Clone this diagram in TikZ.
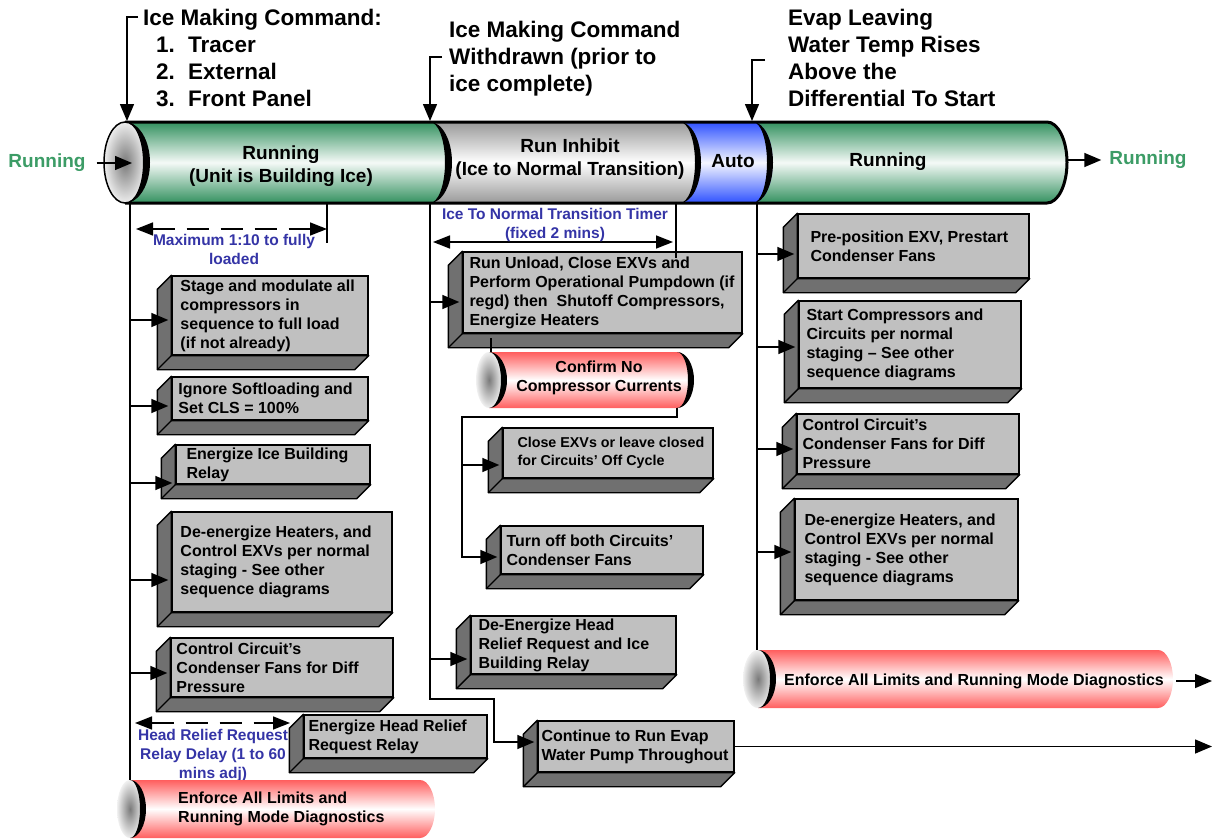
\documentclass[tikz,border=0pt]{standalone}
\usepackage{fontspec}
\setmainfont{Liberation Sans}
\usepackage{tikz}
\usetikzlibrary{arrows.meta,positioning}
\definecolor{runtxt}{HTML}{3C9C66}
\definecolor{tubegreen}{HTML}{33915F}
\definecolor{tubegray}{HTML}{999999}
\definecolor{tubeblue}{HTML}{2F52FF}
\definecolor{enfred}{HTML}{FF5E5E}
\definecolor{dimblue}{HTML}{3434A6}
\definecolor{facegray}{HTML}{C0C0C0}
\definecolor{sidegray}{HTML}{707070}

% dark left/bottom sides of a 3D box, drawn round its face node
\newcommand{\boxslab}[1]{%
  \filldraw[fill=sidegray,draw=black,line width=1.4bp,line join=round]
    (#1.north west) -- ++(-14,14) -- ([shift={(-14,14)}]#1.south west)
    -- ([shift={(-14,14)}]#1.south east) -- (#1.south east) -- (#1.south west) -- cycle;
  \draw[line width=1.4bp] (#1.south west) -- ++(-14,14);}
% black crescent at the end of a tube: x, top y, y radius, outer and inner x radius
\newcommand{\tuberim}[5]{%
  \fill (#1,#2) arc[start angle=90,end angle=-90,x radius=#4bp,y radius=#3bp]
    arc[start angle=-90,end angle=90,x radius=#5bp,y radius=#3bp] -- cycle;}

\begin{document}
\begin{tikzpicture}[x=1bp,y=-1bp,
  wire/.style={line width=1.5bp},
  flow/.style={line width=1.5bp,-{Stealth[length=17bp,width=14bp,inset=0bp]}},
  branch/.style={flow,shorten >=3bp},
  span/.style={line width=1.5bp,{Stealth[length=17bp,width=13bp,inset=0bp]}-{Stealth[length=17bp,width=13bp,inset=0bp]}},
  face/.style={rectangle,draw=black,line width=1.4bp,fill=facegray,inner sep=0pt},
  boxtext/.style={align=left,inner sep=0pt,font=\fontsize{16bp}{19bp}\selectfont\bfseries},
  cmdtext/.style={align=left,inner sep=0pt,font=\fontsize{22.5bp}{27bp}\selectfont\bfseries},
  tubetext/.style={align=center,inner sep=0pt,font=\fontsize{19bp}{23bp}\selectfont\bfseries},
  dimtext/.style={align=center,inner sep=0pt,text=dimblue,font=\fontsize{15.5bp}{19bp}\selectfont\bfseries}]
\useasboundingbox (0,0) rectangle (1215,839);

% main tube, right to left
\shade[top color=tubegreen,bottom color=tubegreen,middle color=tubegreen!5!white]
  (753,122) -- (1047,122) arc[start angle=90,end angle=-90,x radius=20bp,y radius=40.5bp] -- (753,203) -- cycle;
\shade[top color=tubeblue,bottom color=tubeblue,middle color=tubeblue!5!white]
  (680,122) -- (753,122) arc[start angle=90,end angle=-90,x radius=20bp,y radius=40.5bp] -- (680,203) -- cycle;
\shade[top color=tubegray,bottom color=tubegray,middle color=white]
  (430,122) -- (680,122) arc[start angle=90,end angle=-90,x radius=20bp,y radius=40.5bp] -- (430,203) -- cycle;
\shade[top color=tubegreen,bottom color=tubegreen,middle color=tubegreen!5!white]
  (125,122) -- (430,122) arc[start angle=90,end angle=-90,x radius=20bp,y radius=40.5bp] -- (125,203) -- cycle;
\draw[line width=3bp] (125,122) -- (1047,122)
  arc[start angle=90,end angle=-90,x radius=20bp,y radius=40.5bp] -- (125,203);
\shade[inner color=black!52,outer color=black!7] (125,162.5) ellipse[x radius=21bp,y radius=40.5bp];
\draw[line width=1.5bp] (125,162.5) ellipse[x radius=21bp,y radius=40.5bp];
\tuberim{125}{122}{40.5}{25}{18}
\tuberim{430}{122}{40.5}{22}{15}
\tuberim{680}{122}{40.5}{21}{15}
\tuberim{753}{122}{40.5}{20}{14}

\node[tubetext] (run1) at (281,166) {Running\\(Unit is Building Ice)};
\node[tubetext] (inhibit) at (570,159) {Run Inhibit\\(Ice to Normal Transition)};
\node[tubetext] (auto) at (733,161) {Auto};
\node[tubetext] (run2) at (888,162) {Running};

% states in and out
\node[tubetext,text=runtxt] (inL) at (47,163) {Running};
\node[tubetext,text=runtxt] (outR) at (1148,160) {Running};
\coordinate (faceL) at (132,163);
\coordinate (tubeR) at (1067,160);
\draw[flow,shorten <=11bp] (inL) -- (faceL);
\draw[flow,shorten >=8bp] (tubeR) -- (outR);

% commands above the tube
\node[cmdtext,anchor=west] (cmd1) at (143,57.5) {Ice Making Command:\\\hspace*{13bp}\makebox[32bp][l]{1.}Tracer\\\hspace*{13bp}\makebox[32bp][l]{2.}External\\\hspace*{13bp}\makebox[32bp][l]{3.}Front Panel};
\node[cmdtext,anchor=west] (cmd2) at (449,59) {Ice Making Command\\Withdrawn (prior to\\ice complete)};
\node[cmdtext,anchor=west] (cmd3) at (788,57.5) {Evap Leaving\\Water Temp Rises\\Above the\\Differential To Start};
\coordinate (k1) at (138,17);
\coordinate (k2) at (442,57);
\coordinate (k3) at (765,60);
\coordinate (tubeA) at (127,121);
\coordinate (tubeB) at (430,121);
\coordinate (tubeC) at (752,121);
\draw[flow] (k1) -| (tubeA);
\draw[flow] (k2) -| (tubeB);
\draw[flow] (k3) -| (tubeC);

% trunks under the tube
\coordinate (trL) at (130,203);
\coordinate (trM) at (430,203);
\coordinate (trR) at (757,203);
\draw[wire] (trL) -- (130,780);
\draw[wire] (trM) |- (494,699) -- (494,742) -- (534,742);
\draw[wire] (trR) -- (757,650);

% timers
\coordinate (mA) at (136,229);
\coordinate (mB) at (327,229);
\draw[wire] (327,203) -- (327,243);
\draw[span,dash pattern=on 22bp off 12bp] (mA) -- (mB);
\node[dimtext] (maxload) at (234,249) {Maximum 1:10 to fully\\loaded};
\coordinate (tA) at (433,242);
\coordinate (tB) at (673,242);
\draw[span] (tA) -- (tB);
\node[dimtext] (timer) at (555,224.5) {Ice To Normal Transition Timer\\(fixed 2 mins)};

% running side, left column
\node[face,minimum width=196bp,minimum height=79bp] (b1) at (270,315.5) {};
\boxslab{b1}
\node[boxtext,right=9bp of b1.west] (b1t) {Stage and modulate all\\compressors in\\sequence to full load\\(if not already)};
\node[face,minimum width=196bp,minimum height=43bp] (b2) at (270,398.5) {};
\boxslab{b2}
\node[boxtext,right=7bp of b2.west] (b2t) {Ignore Softloading and\\Set CLS = 100\%};
\node[face,minimum width=194bp,minimum height=39bp] (b3) at (273,464.5) {};
\boxslab{b3}
\node[boxtext,right=11bp of b3.west] (b3t) {Energize Ice Building\\Relay};
\node[face,minimum width=220bp,minimum height=100bp] (b4) at (282,562) {};
\boxslab{b4}
\node[boxtext,right=9bp of b4.west] (b4t) {De-energize Heaters, and\\Control EXVs per normal\\staging - See other\\sequence diagrams};
\node[face,minimum width=222bp,minimum height=59bp] (b5) at (282,667.5) {};
\boxslab{b5}
\node[boxtext,right=6bp of b5.west] (b5t) {Control Circuit’s\\Condenser Fans for Diff\\Pressure};
\node[face,minimum width=183bp,minimum height=43bp] (b6) at (395.5,736.5) {};
\boxslab{b6}
\node[boxtext,right=5bp of b6.west] (b6t) {Energize Head Relief\\Request Relay};

\coordinate (t1) at (130,320);
\coordinate (t2) at (130,406);
\coordinate (t3) at (130,483);
\coordinate (t4) at (130,580);
\coordinate (t5) at (130,673);
\draw[branch] (t1) -- (t1 -| b1.west);
\draw[branch] (t2) -- (t2 -| b2.west);
\draw[branch] (t3) -- (t3 -| b3.west);
\draw[branch] (t4) -- (t4 -| b4.west);
\draw[branch] (t5) -- (t5 -| b5.west);

\coordinate (hA) at (135,723);
\coordinate (hB) at (290,723);
\draw[span,dash pattern=on 22bp off 12bp] (hA) -- (hB);
\node[dimtext] (relay) at (213,755) {Head Relief Request\\Relay Delay (1 to 60\\mins adj)};

% enforce limits, left
\shade[top color=enfred,bottom color=enfred,middle color=white]
  (130,780) -- (420,780) arc[start angle=90,end angle=-90,x radius=15bp,y radius=29bp] -- (130,838) -- cycle;
\shade[inner color=black!52,outer color=black!6] (130,809) ellipse[x radius=13bp,y radius=29bp];
\tuberim{130}{780}{29}{16}{10}
\node[boxtext,anchor=west] (enfL) at (178,808.5) {Enforce All Limits and\\Running Mode Diagnostics};

% inhibit column
\node[face,minimum width=279bp,minimum height=81bp] (ru) at (602.5,292.5) {};
\boxslab{ru}
\node[boxtext,right=7bp of ru.west] (rut) {Run Unload, Close EXVs and\\Perform Operational Pumpdown (if\\regd) then\ \ Shutoff Compressors,\\Energize Heaters};
\draw[wire] (676,203) -- (676,258);

\shade[top color=enfred,bottom color=enfred,middle color=white]
  (489,352) -- (677,352) arc[start angle=90,end angle=-90,x radius=15bp,y radius=28bp] -- (489,408) -- cycle;
\shade[inner color=black!52,outer color=black!6] (489,380) ellipse[x radius=13bp,y radius=28bp];
\tuberim{489}{352}{28}{18}{12}
\tuberim{677}{352}{28}{17}{11}
\node[tubetext,font=\fontsize{16bp}{19bp}\selectfont\bfseries] (cnf) at (599,377.5) {Confirm No\\Compressor Currents};
\coordinate (cfTop) at (491,352);
\draw[wire] (cfTop) -- ++(0,-14);

\node[face,minimum width=210bp,minimum height=50bp] (cb) at (608,453) {};
\boxslab{cb}
\node[boxtext,font=\fontsize{14.3bp}{18bp}\selectfont\bfseries,right=15bp of cb.west] (cbt) {Close EXVs or leave closed\\for Circuits’ Off Cycle};
\node[face,minimum width=202bp,minimum height=48bp] (tb) at (602,550) {};
\boxslab{tb}
\node[boxtext,right=6bp of tb.west] (tbt) {Turn off both Circuits’\\Condenser Fans};
\node[face,minimum width=205bp,minimum height=58bp] (dh) at (573.5,645) {};
\boxslab{dh}
\node[boxtext,right=8bp of dh.west] (dht) {De-Energize Head\\Relief Request and Ice\\Building Relay};
\node[face,minimum width=196bp,minimum height=51bp] (cw) at (636,746.5) {};
\boxslab{cw}
\node[boxtext,right=4bp of cw.west] (cwt) {Continue to Run Evap\\Water Pump Throughout};

\coordinate (m1) at (430,302);
\coordinate (m2) at (430,659);
\coordinate (m3) at (494,742);
\draw[branch] (m1) -- (m1 -| ru.west);
\draw[branch] (m2) -- (m2 -| dh.west);
\draw[branch] (m3) -- (m3 -| cw.west);

\coordinate (cfEnd) at (677,408);
\coordinate (sA) at (462,465);
\coordinate (sB) at (462,557);
\draw[branch] (cfEnd) -- ++(0,9) -| (sB) -- (sB -| tb.west);
\draw[branch] (sA) -- (sA -| cb.west);

\coordinate (cwOut) at (1212,746.5);
\draw[flow] (cw.east) -- (cwOut);

% running again, right column
\node[face,minimum width=231bp,minimum height=64bp] (r1) at (913.5,246) {};
\boxslab{r1}
\node[boxtext,right=13bp of r1.west] (r1t) {Pre-position EXV, Prestart\\Condenser Fans};
\node[face,minimum width=222bp,minimum height=87bp] (r2) at (910,344.5) {};
\boxslab{r2}
\node[boxtext,right=8bp of r2.west] (r2t) {Start Compressors and\\Circuits per normal\\staging – See other\\sequence diagrams};
\node[face,minimum width=222bp,minimum height=60bp] (r3) at (908,444) {};
\boxslab{r3}
\node[boxtext,right=6bp of r3.west] (r3t) {Control Circuit’s\\Condenser Fans for Diff\\Pressure};
\node[face,minimum width=223bp,minimum height=101bp] (r4) at (906.5,549.5) {};
\boxslab{r4}
\node[boxtext,right=10bp of r4.west] (r4t) {De-energize Heaters, and\\Control EXVs per normal\\staging - See other\\sequence diagrams};

\coordinate (n1) at (757,254);
\coordinate (n2) at (757,347);
\coordinate (n3) at (757,449);
\coordinate (n4) at (757,552);
\draw[branch] (n1) -- (n1 -| r1.west);
\draw[branch] (n2) -- (n2 -| r2.west);
\draw[branch] (n3) -- (n3 -| r3.west);
\draw[branch] (n4) -- (n4 -| r4.west);

% enforce limits, right
\shade[top color=enfred,bottom color=enfred,middle color=white]
  (758,650) -- (1158,650) arc[start angle=90,end angle=-90,x radius=15bp,y radius=29bp] -- (758,708) -- cycle;
\shade[inner color=black!52,outer color=black!6] (758,679) ellipse[x radius=15bp,y radius=29bp];
\tuberim{758}{650}{29}{18}{12}
\node[boxtext] (enfR) at (974,681) {Enforce All Limits and Running Mode Diagnostics};
\coordinate (enfEnd) at (1176,681);
\coordinate (enfOut) at (1212,681);
\draw[flow] (enfEnd) -- (enfOut);
\end{tikzpicture}
\end{document}
